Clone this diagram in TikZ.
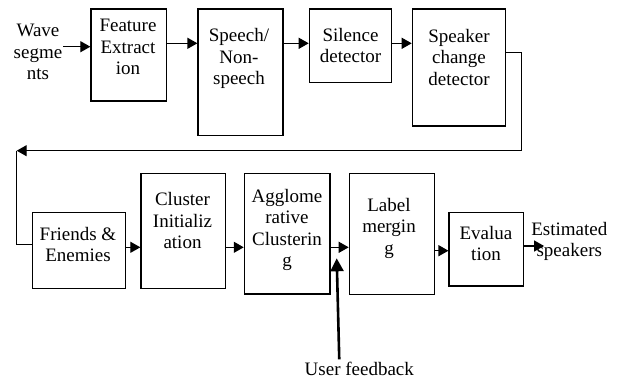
\documentclass[tikz,border=0pt]{standalone}
\usepackage{fontspec}
\setmainfont{Liberation Serif}
\usetikzlibrary{arrows.meta}

\begin{document}
\begin{tikzpicture}[x=1pt, y=-1pt,
    blk/.style={draw, line width=1.2pt, inner sep=0pt},
    lbl/.style={align=center, inner sep=1pt, font=\fontsize{19}{21.5}\selectfont},
    arr/.style={-{Triangle[length=10pt, width=11pt]}, line width=1.2pt},
    fbarr/.style={-{Triangle[length=13pt, width=13pt]}, line width=2.6pt}]
  \useasboundingbox (0,0) rectangle (618,380);

  % first row of blocks
  \node[blk, minimum width=75.7, minimum height=92] (fe) at (128.8,55) {};
  \node[blk, minimum width=85, minimum height=126.7] (sp) at (240.5,72.3) {};
  \node[blk, minimum width=82.4, minimum height=73.3] (si) at (350.5,45.7) {};
  \node[blk, minimum width=93.4, minimum height=117] (sc) at (459,67.5) {};

  \node[lbl] (wave) at (38,52.3) {Wave\\segme\\nts};
  \node[lbl] (fe-t) at (128,47.2) {Feature\\Extract\\ion};
  \node[lbl] (sp-t) at (239,58.7) {Speech/\\Non-\\speech};
  \node[lbl] (si-t) at (350.5,45.5) {Silence\\detector};
  \node[lbl] (sc-t) at (459,57.5) {Speaker\\change\\detector};

  % second row of blocks
  \node[blk, minimum width=93.4, minimum height=76] (fr) at (79,250.3) {};
  \node[blk, minimum width=84.7, minimum height=115] (ci) at (183.3,230.8) {};
  \node[blk, minimum width=85.7, minimum height=120.7] (ag) at (287.2,233.7) {};
  \node[blk, minimum width=85, minimum height=121] (lm) at (391.8,233.8) {};
  \node[blk, minimum width=74.3, minimum height=73.7] (ev) at (486.2,249.2) {};

  \node[lbl] (fr-t) at (78,244.7) {Friends \&\\Enemies};
  \node[lbl] (ci-t) at (182.5,220.9) {Cluster\\Initializ\\ation};
  \node[lbl] (ag-t) at (287,229.9) {Agglome\\rative\\Clusterin\\g};
  \node[lbl] (lm-t) at (389,228) {Label\\mergin\\g};
  \node[lbl] (ev-t) at (486,243.3) {Evalua\\tion};
  \node[lbl] (es) at (569.3,241.2) {Estimated\\speakers};
  \node[lbl] (uf) at (359.3,369.3) {User feedback};

  \coordinate (turn) at (521.7,150.7);
  \coordinate (back) at (16.7,150.7);
  \coordinate (fbtip) at (336.7,258.3);

  % top row flow
  \draw[arr] (wave.east |- 0,46.7) -- (fe.west |- 0,46.7);
  \draw[arr] (fe.east |- 0,43.3) -- (sp.west |- 0,43.3);
  \draw[arr] (sp.east |- 0,43.3) -- (si.west |- 0,43.3);
  \draw[arr] (si.east |- 0,43.3) -- (sc.west |- 0,43.3);

  % loop back to the second row
  \draw[arr] (sc.east |- 0,52.3) -| (turn) -- (back);
  \draw[line width=1.2pt] (back) |- (fr.west |- 0,244.3);

  % bottom row flow
  \draw[arr] (fr.east |- 0,247.3) -- (ci.west |- 0,247.3);
  \draw[arr] (ci.east |- 0,247.3) -- (ag.west |- 0,247.3);
  \draw[arr] (ag.east |- 0,247.3) -- (lm.west |- 0,247.3);
  \draw[arr] (lm.east |- 0,250.7) -- (ev.west |- 0,250.7);
  \draw[arr, shorten >=-14pt] (ev.east |- 0,246) -- (es.west |- 0,246);

  \draw[fbarr, shorten <=2pt] (uf.north -| 339.3,0) -- (fbtip);
\end{tikzpicture}
\end{document}
